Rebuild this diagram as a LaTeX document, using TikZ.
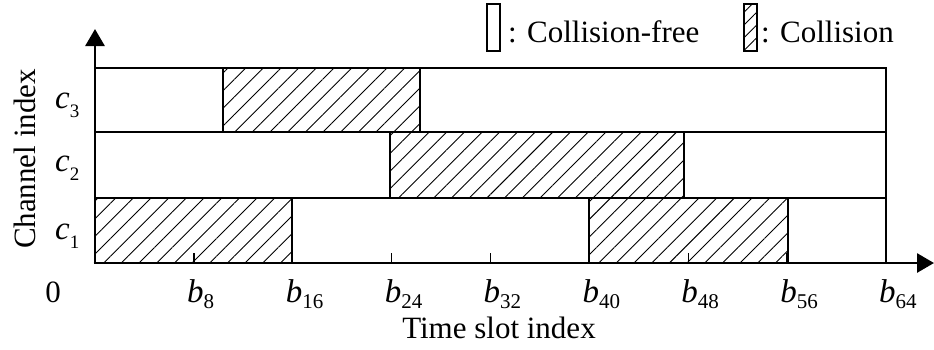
\documentclass[tikz,border=0pt]{standalone}
\usepackage{fontspec}
\setmainfont{Liberation Serif}
\usetikzlibrary{arrows.meta,patterns.meta}
\newcommand{\clab}[2]{\textit{#1}\raisebox{-9pt}{\fontsize{19}{19}\selectfont #2}}
\newcommand{\blab}[2]{\textit{#1}\raisebox{-6pt}{\fontsize{21}{21}\selectfont #2}}
\begin{document}
\begin{tikzpicture}[x=1pt,y=-1pt,
  rowbox/.style={draw=black,line width=2.8pt},
  hatchbox/.style={draw=black,line width=1.3pt,pattern={Lines[angle=45,distance=12.5pt,line width=0.9pt]}},
  axis/.style={line width=2.8pt,-{Triangle[length=17pt,width=19pt]}},
  tick/.style={line width=1.3pt},
  lab/.style={font=\fontsize{31}{31}\selectfont,inner sep=0pt,anchor=base},
  ilab/.style={font=\fontsize{33}{33}\selectfont,inner sep=0pt,anchor=base west}]
\useasboundingbox (0,0) rectangle (934,349);
% hatched regions
\draw[hatchbox] (95,198) rectangle (292,263);
\draw[hatchbox] (589,198) rectangle (788,263);
\draw[hatchbox] (390,132) rectangle (684,198);
\draw[hatchbox] (223,68) rectangle (420,132);
% rows
\draw[rowbox] (95,68) rectangle (886,263);
\draw[rowbox] (95,132) -- (886,132);
\draw[rowbox] (95,198) -- (886,198);
% ticks
\foreach \i in {1,...,7} {
  \draw[tick] ({95+98.875*\i},263) -- ({95+98.875*\i},253);
}
% axes
\coordinate (O) at (95,263);
\coordinate (Ytop) at (95,29);
\coordinate (Xend) at (934,263);
\draw[axis] ([yshift=1.4pt]O) -- (Ytop);
\draw[axis] ([xshift=-1.4pt]O) -- (Xend);
% channel labels
\node[ilab] (c3) at (55,108) {\clab{c}{3}};
\node[ilab] (c2) at (55,171) {\clab{c}{2}};
\node[ilab] (c1) at (55,239) {\clab{c}{1}};
\node[lab,rotate=90] (ylab) at (35,159) {Channel index};
% time labels
\node[lab] (zero) at (53,302) {0};
\foreach \i/\n in {1/8,2/16,3/24,4/32,5/40,6/48,7/56,8/64} {
  \node[ilab] (b\n) at ({88+98.875*\i},302) {\blab{b}{\n}};
}
\node[lab,text height=21pt,text depth=0pt] (xlab) at (499,338) {Time slot index};
% legend
\draw[line width=1.2pt] (487,4) rectangle (500,51);
\node[lab,anchor=base west] (lfree) at (508,42) {: Collision-free};
\draw[line width=1.2pt,pattern={Lines[angle=45,distance=9pt,line width=0.9pt]}] (744,4) rectangle (757,51);
\node[lab,anchor=base west] (lcol) at (761,42) {: Collision};
\end{tikzpicture}
\end{document}
